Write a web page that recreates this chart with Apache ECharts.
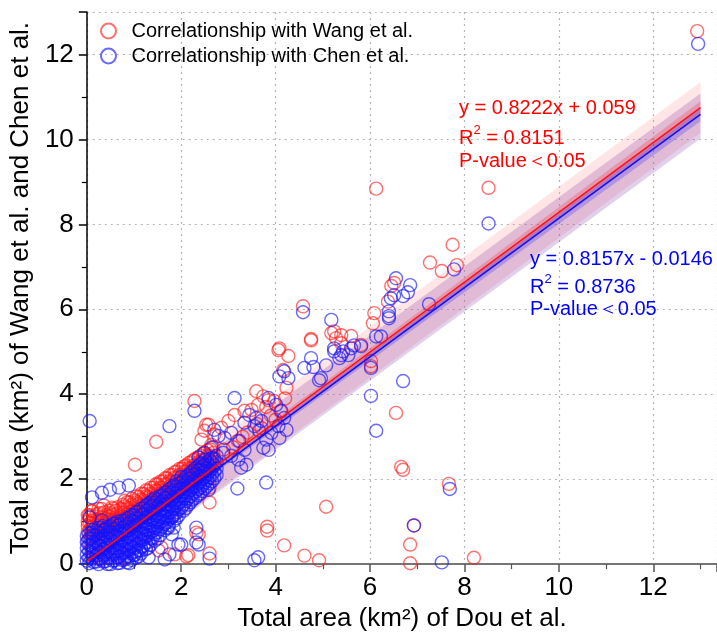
<!DOCTYPE html>
<html><head><meta charset="utf-8">
<script src="https://cdn.jsdelivr.net/npm/echarts/dist/echarts.min.js"></script>
<style>html,body{margin:0;padding:0;background:#fff}#c{width:717px;height:637px}</style>
</head><body><div id="c"></div>
<script>
// ---------- data ----------
const seriesNames = ['Correlationship with Wang et al.', 'Correlationship with Chen et al.'];
const xTickValues = [0, 2, 4, 6, 8, 10, 12];
const yTickValues = [0, 2, 4, 6, 8, 10, 12];

// scattered (readable) points, [x, y]
const wangOutliers = [[12.93,12.55],[6.13,8.84],[8.51,8.86],[7.75,7.52],[7.27,7.10],[7.52,6.90],[7.84,7.04],[6.51,6.62],[6.45,6.55],[6.38,6.18],[6.09,5.91],[6.06,5.67],[5.81,5.16],[6.02,4.78],[6.02,4.66],[6.55,3.56],[6.66,2.29],[6.70,2.22],[7.67,1.89],[6.93,0.91],[6.85,0.46],[6.85,0.02],[8.20,0.15],[5.07,1.35],[3.82,0.88],[3.82,0.79],[4.18,0.44],[4.61,0.20],[4.92,0.09],[4.58,6.07],[4.75,5.30],[5.18,5.44],[5.28,5.32],[5.39,5.20],[5.60,5.37],[5.24,5.48],[5.39,5.39],[4.08,5.08],[4.27,4.90],[4.06,5.04],[4.75,5.27],[4.16,4.57],[4.23,4.15],[3.59,4.07],[3.74,3.95],[3.85,3.86],[3.97,3.84],[3.63,3.75],[3.49,3.63],[3.34,3.61],[3.13,3.51],[3.00,3.37],[2.85,3.21],[2.70,3.05],[2.58,3.28],[2.49,3.14],[2.64,2.81],[2.43,2.93],[1.47,2.88],[2.28,3.84],[2.53,3.28],[1.02,2.34],[0.36,1.38],[0.53,1.33],[0.80,1.49],[2.60,1.45],[2.60,1.80],[2.32,0.74],[2.60,0.25],[2.11,0.18],[2.37,0.70],[1.86,0.23],[2.15,0.21],[1.52,0.32],[1.58,0.39],[3.30,3.00],[3.60,3.30],[3.90,3.50],[4.10,3.60],[3.20,2.90],[2.90,2.70],[3.10,2.75],[3.40,3.10],[3.70,3.20],[4.00,3.40],[4.20,3.90],[3.80,3.70],[0.05,1.15],[0.10,1.25],[0.25,1.30]];

const chenOutliers = [[12.95,12.25],[8.51,8.02],[6.55,6.73],[6.85,6.57],[6.80,6.40],[6.70,6.31],[6.44,6.26],[6.40,5.84],[7.78,6.94],[7.25,6.12],[6.70,4.31],[6.23,5.36],[6.40,5.79],[6.13,5.36],[5.81,5.13],[6.02,4.62],[6.02,3.96],[6.13,3.14],[7.69,1.77],[6.93,0.91],[7.52,0.04],[6.51,6.33],[6.40,5.95],[4.58,5.93],[5.18,5.75],[5.24,5.08],[5.35,4.85],[5.54,4.92],[5.60,5.08],[5.43,5.01],[5.24,5.01],[5.39,4.92],[5.66,5.15],[4.75,4.85],[4.61,4.62],[4.80,4.64],[4.92,4.33],[5.07,4.68],[4.96,4.38],[4.08,4.42],[4.27,4.38],[4.18,4.54],[3.63,0.16],[3.55,0.09],[3.80,1.92],[3.19,1.78],[2.32,0.86],[2.32,0.51],[2.60,0.13],[1.84,0.86],[1.80,0.70],[1.94,0.46],[1.75,0.23],[1.65,0.11],[2.58,1.75],[0.06,3.37],[1.75,3.25],[2.28,3.61],[0.89,1.85],[0.68,1.80],[0.49,1.75],[0.32,1.68],[0.11,1.57],[0.06,1.10],[0.32,1.03],[3.13,3.91],[3.85,3.91],[4.01,3.75],[4.12,3.61],[4.18,3.44],[4.06,3.25],[3.91,3.09],[3.80,2.93],[4.08,2.97],[4.23,3.16],[3.44,3.51],[3.59,3.44],[3.34,3.33],[3.55,3.25],[3.70,3.37],[3.65,3.14],[3.85,2.69],[3.74,2.74],[2.70,3.16],[2.79,3.02],[2.92,2.97],[3.06,3.09],[3.23,2.90],[3.34,2.69],[3.21,2.46],[3.38,2.34],[3.27,2.27],[3.06,2.55],[2.89,2.62],[2.64,2.74],[2.49,2.62],[2.37,2.51],[1.73,0.86],[1.80,1.10],[2.00,0.46],[1.16,0.32],[1.31,0.16],[1.01,0.21],[2.37,0.46]];

// dense cluster near the origin, estimated as columns: [x, [y values]]
const wangCoreRows = [
 [0.02,[0.55,0.75,0.9,1.0,1.15]],[0.11,[0.35,0.7,0.88,1.02,1.25]],[0.22,[0.2,0.75,0.92,1.05,1.18]],
 [0.31,[0.1,0.8,0.98,1.1,1.3]],[0.42,[0.45,0.85,1.0,1.15]],[0.5,[0.9,1.05,1.2]],
 [0.61,[0.3,0.95,1.1,1.25]],[0.72,[1.0,1.15,1.3]],[0.8,[0.15,1.08,1.22,1.36]],
 [0.91,[0.5,1.15,1.3,1.45]],[1.02,[0.9,1.2,1.36,1.5]],[1.1,[1.28,1.42,1.58]],
 [1.21,[0.7,1.35,1.5,1.65]],[1.3,[1.42,1.58,1.72]],[1.42,[1.5,1.65,1.8]],
 [1.5,[1.0,1.58,1.72,1.88]],[1.61,[1.65,1.8,1.95]],[1.7,[1.72,1.88,2.02]],
 [1.81,[1.3,1.8,1.95,2.1]],[1.9,[1.88,2.02,2.18]],[2.02,[1.95,2.1,2.25]],
 [2.1,[2.02,2.18,2.32]],[2.21,[1.8,2.1,2.25,2.4]],[2.3,[2.18,2.32,2.48]],
 [2.41,[2.25,2.4,2.55]],[2.5,[2.32,2.48,2.62]],[2.62,[2.4,2.55,2.7]]
];
const wangCoreRows2 = [
 [0.07,[0.62,0.82,0.96,1.1]],[0.17,[0.68,0.85,0.98,1.12]],[0.27,[0.72,0.9,1.04,1.2]],
 [0.37,[0.78,0.93,1.06,1.22]],[0.47,[0.84,0.98,1.12,1.26]],[0.56,[0.88,1.02,1.16,1.3]],
 [0.66,[0.92,1.06,1.2,1.34]],[0.77,[0.98,1.12,1.28,1.4]],[0.86,[1.04,1.18,1.32,1.46]],
 [0.96,[1.1,1.25,1.4,1.54]],[1.06,[1.16,1.3,1.46,1.6]],[1.16,[1.22,1.38,1.52,1.66]],
 [1.26,[1.3,1.45,1.6,1.74]],[1.36,[1.36,1.52,1.66,1.8]],[1.46,[1.44,1.6,1.74,1.88]],
 [1.56,[1.5,1.66,1.8,1.94]],[1.66,[1.58,1.74,1.88,2.02]],[1.76,[1.66,1.82,1.96,2.1]],
 [1.86,[1.72,1.88,2.04,2.16]],[1.96,[1.8,1.96,2.1,2.24]],[2.06,[1.88,2.04,2.18,2.3]],
 [2.16,[1.95,2.1,2.26,2.38]],[2.26,[2.02,2.18,2.32,2.45]],[2.36,[2.1,2.26,2.4,2.52]],
 [2.46,[2.18,2.32,2.46,2.6]],[2.56,[2.25,2.4,2.55,2.68]],[2.68,[2.35,2.5,2.62,2.75]]
];
const chenCoreRows = [
 [0.05,[0.02,0.15,0.3,0.45,0.6,0.72]],[0.14,[0.05,0.22,0.38,0.52,0.68,0.8]],
 [0.25,[0.0,0.12,0.28,0.44,0.6,0.75,0.85]],[0.35,[0.06,0.2,0.35,0.5,0.65,0.8,0.9]],
 [0.44,[0.0,0.14,0.3,0.45,0.6,0.74,0.88]],[0.55,[0.08,0.22,0.38,0.52,0.68,0.82,0.95]],
 [0.65,[0.02,0.16,0.3,0.46,0.6,0.75,0.9,1.0]],[0.74,[0.1,0.25,0.4,0.55,0.7,0.85,1.02]],
 [0.85,[0.04,0.18,0.34,0.5,0.64,0.8,0.95,1.08]],[0.95,[0.1,0.26,0.42,0.58,0.72,0.88,1.02,1.15]],
 [1.04,[0.15,0.3,0.46,0.62,0.78,0.92,1.08,1.22]],[1.15,[0.25,0.4,0.55,0.7,0.85,1.0,1.15,1.3]],
 [1.25,[0.35,0.5,0.65,0.8,0.95,1.1,1.25,1.38]],[1.35,[0.45,0.6,0.75,0.9,1.05,1.2,1.35,1.45]],
 [1.44,[0.55,0.7,0.85,1.0,1.15,1.3,1.45,1.55]],[1.55,[0.68,0.82,0.98,1.12,1.28,1.42,1.6]],
 [1.65,[0.8,0.95,1.1,1.25,1.4,1.55,1.68]],[1.74,[0.92,1.06,1.2,1.35,1.5,1.64,1.76]],
 [1.85,[1.02,1.16,1.3,1.45,1.6,1.74,1.85]],[1.95,[1.15,1.3,1.45,1.6,1.74,1.9]],
 [2.05,[1.26,1.4,1.55,1.7,1.85,1.98]],[2.15,[1.4,1.55,1.7,1.85,2.0,2.1]],
 [2.24,[1.52,1.66,1.8,1.95,2.1,2.2]],[2.35,[1.62,1.76,1.9,2.05,2.2,2.3]],
 [2.45,[1.72,1.86,2.0,2.15,2.3,2.38]],[2.55,[1.84,1.98,2.12,2.26,2.4]],
 [2.65,[1.95,2.1,2.25,2.4,2.5]],[2.75,[2.1,2.25,2.4,2.55]]
];
const chenCoreRows2 = [
 [0.0,[0.08,0.22,0.38,0.52,0.66]],[0.1,[0.12,0.28,0.44,0.6,0.74]],
 [0.2,[0.06,0.2,0.36,0.52,0.68,0.8]],[0.3,[0.13,0.28,0.42,0.58,0.72,0.86]],
 [0.4,[0.07,0.22,0.38,0.52,0.68,0.82]],[0.5,[0.0,0.15,0.3,0.45,0.6,0.75,0.9]],
 [0.6,[0.09,0.24,0.38,0.54,0.68,0.84,0.96]],[0.7,[0.03,0.18,0.32,0.48,0.62,0.78,0.94]],
 [0.8,[0.11,0.26,0.42,0.58,0.72,0.88,1.02]],[0.9,[0.02,0.18,0.34,0.5,0.65,0.8,0.96,1.1]],
 [1.0,[0.22,0.38,0.54,0.7,0.85,1.0,1.15]],[1.1,[0.18,0.32,0.48,0.62,0.78,0.92,1.08,1.24]],
 [1.2,[0.42,0.58,0.72,0.88,1.02,1.18,1.32]],[1.3,[0.38,0.52,0.68,0.82,0.98,1.12,1.28,1.42]],
 [1.4,[0.62,0.78,0.92,1.08,1.22,1.38,1.5]],[1.5,[0.6,0.75,0.9,1.05,1.2,1.35,1.52]],
 [1.6,[0.88,1.02,1.18,1.32,1.48,1.62]],[1.7,[0.85,0.99,1.13,1.28,1.42,1.57,1.7]],
 [1.8,[1.1,1.24,1.38,1.52,1.68,1.8]],[1.9,[1.08,1.22,1.38,1.52,1.68,1.82,1.95]],
 [2.0,[1.33,1.48,1.62,1.78,1.92,2.05]],[2.1,[1.32,1.48,1.62,1.78,1.92,2.06]],
 [2.2,[1.46,1.6,1.74,1.88,2.02,2.15]],[2.3,[1.56,1.7,1.84,1.98,2.12,2.26]],
 [2.4,[1.66,1.8,1.94,2.08,2.22,2.35]],[2.5,[1.78,1.92,2.06,2.2,2.34,2.45]],
 [2.6,[1.9,2.04,2.18,2.32,2.46]],[2.7,[2.02,2.18,2.32,2.48]]
];

// regression fits (from the printed equations)
const wangFit = [0.8222, 0.059];
const chenFit = [0.8157, -0.0146];
const fitX = [0, 13];
// band edges at the fitX ends
const wangPredLower = [-0.54, 10.15], wangPredUpper = [0.66, 11.35];
const chenPredLower = [-0.57, 10.02], chenPredUpper = [0.50, 11.08];
const wangConfLower = [0.02, 10.58], wangConfUpper = [0.10, 10.90];
const chenConfLower = [-0.05, 10.43], chenConfUpper = [0.02, 10.74];

// ---------- build ----------
function flatten(rows){ const out=[]; rows.forEach(r=>r[1].forEach(y=>out.push([r[0],y]))); return out; }
const wangData = flatten(wangCoreRows).concat(flatten(wangCoreRows2), wangOutliers);
const chenData = flatten(chenCoreRows).concat(flatten(chenCoreRows2), chenOutliers);
const fitLine = f => fitX.map(x => [x, f[0]*x + f[1]]);

function band(lower, upper, color, z){
  return {
    type:'custom', silent:true, clip:true, z:z, data:[[0,0]],
    renderItem:(p, api) => {
      const pts = [api.coord([fitX[0],lower[0]]), api.coord([fitX[1],lower[1]]),
                   api.coord([fitX[1],upper[1]]), api.coord([fitX[0],upper[0]])];
      return {type:'polygon', shape:{points:pts}, style:{fill:color}};
    }
  };
}

const FONT = 'Arial, "Liberation Sans", sans-serif';
const chart = echarts.init(document.getElementById('c'));
const axisCommon = {
  min:0, interval:2,
  axisTick:{show:true, inside:false, length:8, lineStyle:{width:1.5}},
  minorTick:{show:true, splitNumber:2, length:5, lineStyle:{width:1.2}},
  splitLine:{show:true, lineStyle:{color:'#b5b5b5', type:[2,4], width:1.2}},
  axisLabel:{fontFamily:FONT, fontSize:26, color:'#000', showMaxLabel:false},
  nameTextStyle:{fontFamily:FONT, fontSize:26, color:'#000'},
  nameLocation:'middle'
};
const richR = c => ({a:{fontFamily:FONT, fontSize:20, lineHeight:24, fill:c, verticalAlign:'bottom'},
                      s:{fontFamily:FONT, fontSize:13, lineHeight:13, fill:c, verticalAlign:'top'}});
chart.setOption({
  animation:false,
  backgroundColor:'#fff',
  grid:{left:85, top:12, right:0, bottom:70, containLabel:false},
  legend:{
    data:seriesNames, orient:'vertical', left:95, top:15, itemWidth:30, itemHeight:15, itemGap:3,
    textStyle:{fontFamily:FONT, fontSize:20, lineHeight:22, color:'#000', padding:[0,0,0,3]}, icon:'circle'
  },
  xAxis:[Object.assign({}, axisCommon, {
    type:'value', max:13.35, name:'Total area (km²) of Dou et al.', nameGap:41,
    axisLine:{show:true, onZero:false, lineStyle:{color:'#555', width:2}},
    axisLabel:Object.assign({}, axisCommon.axisLabel, {margin:11,
      formatter:v => xTickValues.includes(v) ? String(v) : ''})
  }),{
    type:'value', position:'top', min:0, max:13.35,
    axisLine:{show:true, lineStyle:{color:'#808080', width:1.5}},
    axisTick:{show:false}, axisLabel:{show:false}, splitLine:{show:false}
  }],
  yAxis:Object.assign({}, axisCommon, {
    type:'value', max:13, name:'Total area (km²) of Wang et al. and Chen et al.', nameGap:37,
    axisLine:{show:true, onZero:false, lineStyle:{color:'#000', width:1.5}},
    axisLabel:Object.assign({}, axisCommon.axisLabel, {margin:13,
      formatter:v => yTickValues.includes(v) ? String(v) : ''})
  }),
  series:[
    band(wangPredLower, wangPredUpper, 'rgba(255,150,150,0.25)', 1),
    band(chenPredLower, chenPredUpper, 'rgba(120,40,160,0.22)', 1),
    {
      name:seriesNames[0], type:'scatter', data:wangData, symbol:'circle', symbolSize:13, z:3,
      itemStyle:{color:'rgba(0,0,0,0)', borderColor:'rgba(255,25,25,0.78)', borderWidth:1.4}
    },
    {
      name:seriesNames[1], type:'scatter', data:chenData, symbol:'circle', symbolSize:13, z:4,
      itemStyle:{color:'rgba(0,0,0,0)', borderColor:'rgba(20,20,255,0.8)', borderWidth:1.4}
    },
    band(wangConfLower, wangConfUpper, 'rgba(255,0,0,0.2)', 5),
    band(chenConfLower, chenConfUpper, 'rgba(0,0,255,0.2)', 5),
    {type:'line', data:fitLine(chenFit), symbol:'none', silent:true, z:6,
     lineStyle:{color:'#1010ff', width:1.6}},
    {type:'line', data:fitLine(wangFit), symbol:'none', silent:true, z:7,
     lineStyle:{color:'#ff1010', width:1.4}}
  ],
  graphic:[
    {type:'text', left:459, top:98, z:20, style:{text:'y = 0.8222x + 0.059', font:'20px '+FONT, fill:'#ff0000'}},
    {type:'text', left:459, top:124, z:20, style:{text:'{a|R}{s|2}{a| = 0.8151}', rich:richR('#ff0000')}},
    {type:'text', left:459, top:151, z:20, style:{text:'P-value\uFF1C0.05', font:'20px '+FONT, fill:'#ff0000'}},
    {type:'text', left:530, top:249, z:20, style:{text:'y = 0.8157x - 0.0146', font:'20px '+FONT, fill:'#0000ff'}},
    {type:'text', left:530, top:273, z:20, style:{text:'{a|R}{s|2}{a| = 0.8736}', rich:richR('#0000ff')}},
    {type:'text', left:530, top:299, z:20, style:{text:'P-value\uFF1C0.05', font:'20px '+FONT, fill:'#0000ff'}}
  ]
});
</script></body></html>
